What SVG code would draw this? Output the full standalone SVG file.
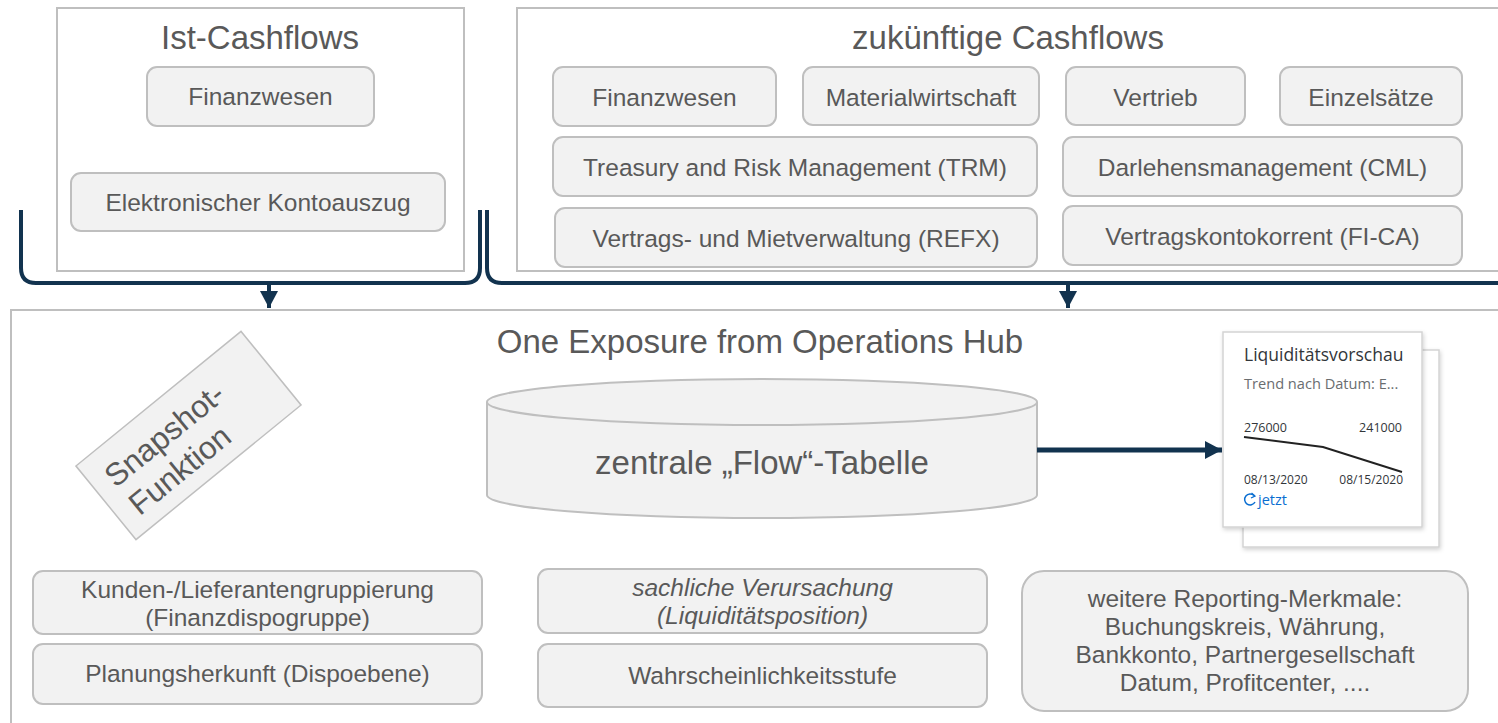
<svg xmlns="http://www.w3.org/2000/svg" width="1498" height="723" viewBox="0 0 1498 723">
<style>
.frame{fill:#ffffff;stroke:#bfbfbf;stroke-width:2}
.box{fill:#f2f2f2;stroke:#bfbfbf;stroke-width:2}
.t{font-family:"Liberation Sans",Arial,sans-serif;fill:#595959}
.title{font-size:33px;text-anchor:middle}
.lbl{font-size:24.5px;text-anchor:middle}
.it{font-style:italic}
.conn{fill:none;stroke:#12334f;stroke-width:4}
.card{fill:#ffffff;stroke:#d4d4d4;stroke-width:1.5}
.ct{font-family:"Open Sans","Noto Sans",sans-serif}
</style>
<defs>
<marker id="ah" viewBox="0 0 17 18" refX="17" refY="9" markerWidth="17" markerHeight="18" orient="auto" markerUnits="userSpaceOnUse"><path d="M0,0 L17,9 L0,18 z" fill="#12334f"/></marker>
<filter id="sh" x="-10%" y="-10%" width="130%" height="130%"><feDropShadow dx="1" dy="2" stdDeviation="2" flood-color="#000" flood-opacity="0.18"/></filter>
</defs>
<rect width="1498" height="723" fill="#ffffff"/>

<g id="ist-cashflows">
<rect class="frame" x="57" y="8" width="407" height="263"/>
<text class="t title" x="260" y="49">Ist-Cashflows</text>
</g>
<g id="ist-finanzwesen">
<rect class="box" x="147" y="67" width="227" height="59" rx="10"/>
<text class="t lbl" x="260.5" y="105">Finanzwesen</text>
</g>
<g id="ist-kontoauszug">
<rect class="box" x="71" y="173" width="374" height="58" rx="10"/>
<text class="t lbl" x="258" y="211">Elektronischer Kontoauszug</text>
</g>

<g id="zukuenftige-cashflows">
<rect class="frame" x="517" y="8" width="1000" height="263"/>
<text class="t title" x="1008" y="49">zukünftige Cashflows</text>
</g>
<g id="z-finanzwesen">
<rect class="box" x="553" y="67" width="223" height="59" rx="10"/>
<text class="t lbl" x="664.5" y="106">Finanzwesen</text>
</g>
<g id="z-material">
<rect class="box" x="803" y="67" width="236" height="58" rx="10"/>
<text class="t lbl" x="921" y="106">Materialwirtschaft</text>
</g>
<g id="z-vertrieb">
<rect class="box" x="1066" y="67" width="179" height="58" rx="10"/>
<text class="t lbl" x="1155.5" y="106">Vertrieb</text>
</g>
<g id="z-einzelsaetze">
<rect class="box" x="1280" y="67" width="182" height="58" rx="10"/>
<text class="t lbl" x="1371" y="106">Einzelsätze</text>
</g>
<g id="z-trm">
<rect class="box" x="553" y="137" width="484" height="59" rx="10"/>
<text class="t lbl" x="795" y="176">Treasury and Risk Management (TRM)</text>
</g>
<g id="z-cml">
<rect class="box" x="1063" y="137" width="399" height="59" rx="10"/>
<text class="t lbl" x="1262.5" y="176">Darlehensmanagement (CML)</text>
</g>
<g id="z-refx">
<rect class="box" x="555" y="208" width="482" height="59" rx="10"/>
<text class="t lbl" x="796" y="247">Vertrags- und Mietverwaltung (REFX)</text>
</g>
<g id="z-fica">
<rect class="box" x="1063" y="206" width="399" height="59" rx="10"/>
<text class="t lbl" x="1262.5" y="245">Vertragskontokorrent (FI-CA)</text>
</g>

<g id="one-exposure">
<rect class="frame" x="11" y="310" width="1510" height="430"/>
<text class="t title" x="760" y="353">One Exposure from Operations Hub</text>
</g>

<g id="snapshot" transform="translate(188.5,435.5) rotate(-39.2)">
<rect class="box" x="-106.5" y="-47.5" width="213" height="95" style="stroke-width:1.5"/>
<text class="t" style="font-size:31.5px" x="-90" y="-5">Snapshot-</text>
<text class="t" style="font-size:31.5px" x="-89" y="32">Funktion</text>
</g>

<g id="flow-tabelle">
<path class="box" d="M487,402 L487,495 A275,23 0 0 0 1037,495 L1037,402"/>
<ellipse class="box" cx="762" cy="402" rx="275" ry="23"/>
<text class="t" style="font-size:33px;text-anchor:middle" x="762" y="474">zentrale „Flow“-Tabelle</text>
</g>

<g id="liquiditaetsvorschau">
<rect class="card" x="1243" y="350" width="196" height="197" filter="url(#sh)"/>
<rect class="card" x="1223" y="332" width="199" height="195" filter="url(#sh)"/>
<text class="ct" x="1244" y="361" style="font-size:17.5px;fill:#32363a">Liquiditätsvorschau</text>
<text class="ct" x="1244" y="389" style="font-size:14.6px;fill:#6a6d70">Trend nach Datum: E...</text>
<text class="ct" x="1244" y="432" style="font-size:12.5px;fill:#32363a">276000</text>
<text class="ct" x="1402" y="432" style="font-size:12.5px;fill:#32363a;text-anchor:end">241000</text>
<polyline points="1244,437 1323,447 1402,472" fill="none" stroke="#222" stroke-width="2"/>
<text class="ct" x="1244" y="484" style="font-size:12px;fill:#32363a">08/13/2020</text>
<text class="ct" x="1403" y="484" style="font-size:12px;fill:#32363a;text-anchor:end">08/15/2020</text>
<path d="M1254,495.5 A5.5,5.5 0 1 0 1255,502" fill="none" stroke="#0a6ed1" stroke-width="1.5"/>
<path d="M1251.5,493 L1255,496 L1251,498" fill="none" stroke="#0a6ed1" stroke-width="1.3"/>
<text class="ct" x="1258" y="505" style="font-size:14.5px;fill:#0a6ed1">jetzt</text>
</g>

<g id="kunden">
<rect class="box" x="33" y="571" width="449" height="63" rx="10"/>
<text class="t lbl" x="257.5" y="598">Kunden-/Lieferantengruppierung</text>
<text class="t lbl" x="257.5" y="626">(Finanzdispogruppe)</text>
</g>
<g id="planungsherkunft">
<rect class="box" x="33" y="644" width="449" height="60" rx="10"/>
<text class="t lbl" x="257.5" y="682">Planungsherkunft (Dispoebene)</text>
</g>
<g id="sachliche">
<rect class="box" x="538" y="569" width="449" height="64" rx="10"/>
<text class="t lbl it" x="762.5" y="596">sachliche Verursachung</text>
<text class="t lbl it" x="762.5" y="624">(Liquiditätsposition)</text>
</g>
<g id="wahrscheinlichkeit">
<rect class="box" x="538" y="644" width="449" height="63" rx="10"/>
<text class="t lbl" x="762.5" y="684">Wahrscheinlichkeitsstufe</text>
</g>
<g id="weitere">
<rect class="box" x="1022" y="571" width="446" height="140" rx="22"/>
<text class="t lbl" x="1245" y="607">weitere Reporting-Merkmale:</text>
<text class="t lbl" x="1245" y="635">Buchungskreis, Währung,</text>
<text class="t lbl" x="1245" y="663">Bankkonto, Partnergesellschaft</text>
<text class="t lbl" x="1245" y="691">Datum, Profitcenter, ....</text>
</g>

<g id="connectors">
<path class="conn" d="M21,210 L21,268 Q21,283 36,283 L465,283 Q480,283 480,268 L480,210"/>
<path class="conn" d="M487,210 L487,268 Q487,283 502,283 L1510,283"/>
<line class="conn" x1="269" y1="283" x2="269" y2="308" marker-end="url(#ah)"/>
<line class="conn" x1="1068" y1="283" x2="1068" y2="308" marker-end="url(#ah)"/>
<line class="conn" x1="1037" y1="450" x2="1222" y2="450" style="stroke-width:5" marker-end="url(#ah)"/>
</g>
</svg>
